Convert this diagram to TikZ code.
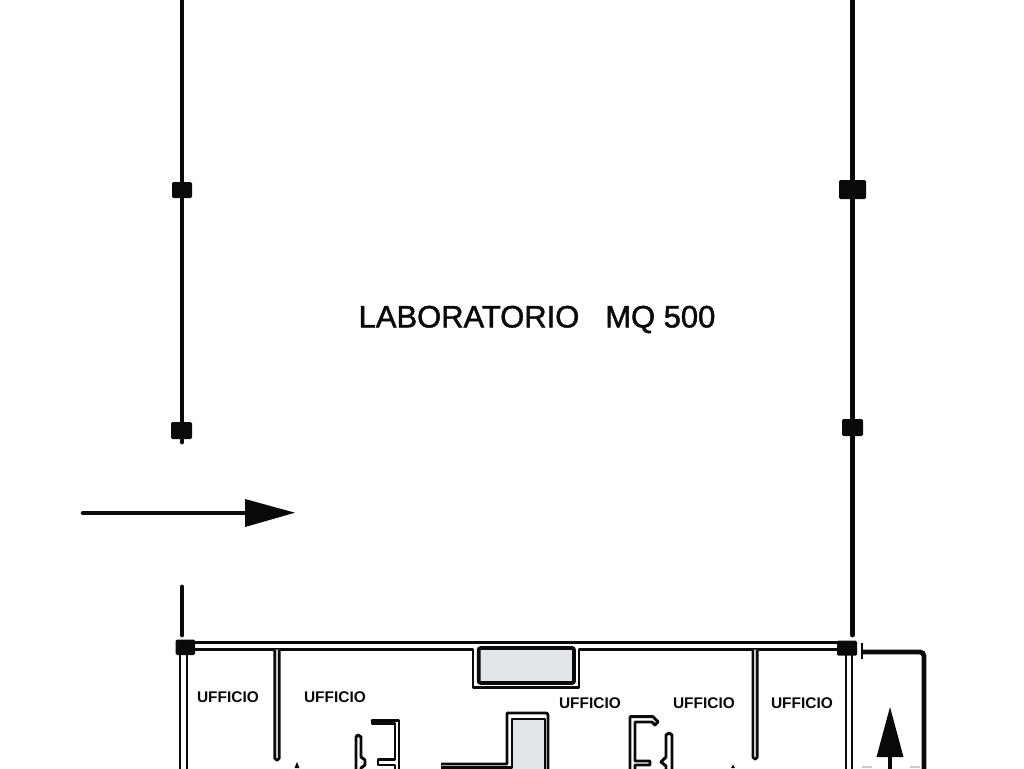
\documentclass[tikz,border=0pt]{standalone}
\usepackage{fontspec}
\setmainfont{Liberation Sans}
\newfontfamily\labfont[FakeBold=1.5]{Liberation Sans}
\definecolor{ink}{HTML}{0A0A0A}
\definecolor{hatch}{HTML}{E2E6E6}
\definecolor{faint}{HTML}{C8CCCC}
\tikzset{
  column/.style={draw=ink,line width=3.6pt,line cap=round},
  wall/.style={draw=ink,line width=2.1pt,line join=round},
  thinwall/.style={draw=ink,line width=2pt,line join=round},
  pier/.style={fill=ink,draw=none,rounded corners=1pt},
  room/.style={font=\bfseries\fontsize{11.6}{14}\selectfont,text=ink,inner sep=0pt},
  biglabel/.style={font=\labfont\fontsize{23.2}{27}\selectfont,text=ink,inner sep=0pt},
  stair/.style={draw=ink,line width=2.2pt,line join=round,line cap=round},
}
\begin{document}
\begin{tikzpicture}[x=0.75pt,y=-0.75pt]
\useasboundingbox (0,0) rectangle (1024,768);
\clip (0,0) rectangle (1024,768);
% upper columns
\draw[column] (182,-5) -- (182,442);
\draw[column] (182,587) -- (182,635);
\draw[column] (852.5,-5) -- (852.5,635);
\fill[pier] (172,182) rectangle (192,198);
\fill[pier] (171,422) rectangle (192,439);
\fill[pier] (839,180) rectangle (866,199);
\fill[pier] (842,419) rectangle (863,436);
% entrance arrow
\coordinate (entryA) at (83,513);
\coordinate (entryB) at (246,513);
\draw[draw=ink,line width=3.4pt,line cap=round] (entryA) -- (entryB);
\fill[ink] (245,499) -- (295,512.7) -- (245,527) -- cycle;
% label
\node[biglabel] (lab) at (537,319.5) {LABORATORIO\hspace{19.5pt}MQ 500};
% top wall
\draw[wall] (190,642.7) -- (845,642.7);
\draw[wall] (190,649.3) -- (473,649.3) -- (473,687.3) -- (579,687.3) -- (579,649.3) -- (845,649.3);
% niche
\draw[draw=ink,line width=2.8pt,fill=hatch,rounded corners=1.5pt] (478.7,648) rectangle (574,683);
% outer walls
\draw[wall] (180,650) -- (180,775);
\draw[wall] (187,650) -- (187,775);
\draw[wall] (846,650) -- (846,775);
\draw[wall] (852,650) -- (852,775);
\fill[pier] (175.7,639.5) rectangle (195,655);
\fill[pier] (837,640.7) rectangle (857,655.7);
% partitions
\draw[thinwall,fill=hatch,rounded corners=1.4pt] (274.7,649.5) -- (274.7,760) -- (279.3,760) -- (279.3,649.5);
\draw[thinwall,fill=hatch,rounded corners=1.4pt] (752.9,649.5) -- (752.9,759) -- (757.3,759) -- (757.3,649.5);
% central block
\fill[hatch] (512,719) rectangle (545,775);
\draw[wall] (441,764) -- (507,764) -- (507,713) [rounded corners=1.5pt] -- (548,713) -- (548,775);
\draw[wall] (441,767.3) -- (512,767.3) -- (512,719) -- (545,719) -- (545,775);
% left stair
\draw[stair] (372,720.7) -- (399,720.7) -- (399,775);
\draw[stair] (372,720.7) -- (372,723.5) -- (395,723.5) -- (395,759.7) -- (378,759.7) -- (378,765) -- (395,765) -- (395,775);
\draw[stair] (356,775) -- (356,737) -- (358,735) -- (361,737) -- (361,757) -- (365,760) -- (365,765) -- (361,768) -- (361,775);
% right stair
\draw[stair] (630,775) -- (630,716.7) -- (653,716.7) -- (658,721.7) -- (655,725) -- (652,722) -- (635,722) -- (635,761) -- (650,761) -- (650,765) -- (635,765) -- (635,775);
\draw[stair] (672,775) -- (672,735) -- (669,733) -- (666,735) -- (666,757) -- (661,762) -- (666,766) -- (666,775);
% small tips
\fill[ink] (297,762) -- (299.5,768) -- (294.5,768) -- cycle;
\fill[ink] (733,764.5) -- (735,768) -- (731,768) -- cycle;
% labels
\node[room] (u1) at (228,697.5) {UFFICIO};
\node[room] (u2) at (335,697.5) {UFFICIO};
\node[room] (u3) at (590,703) {UFFICIO};
\node[room] (u4) at (704,703) {UFFICIO};
\node[room] (u5) at (802,703) {UFFICIO};
% right annex
\draw[draw=ink,line width=1.6pt] (862,643) -- (862,659);
\draw[draw=ink,line width=3.6pt,rounded corners=3pt] (862,652) -- (924,652) -- (924,775);
% up arrow
\coordinate (upA) at (890,775);
\coordinate (upB) at (890,750);
\draw[draw=ink,line width=3.4pt] (upA) -- (upB);
\fill[ink] (890,707) -- (903.5,757) -- (876.5,757) -- cycle;
\draw[draw=faint,line width=1.5pt] (862,767) -- (872,767);
\draw[draw=faint,line width=1.5pt] (910,767) -- (920,767);
\end{tikzpicture}
\end{document}
